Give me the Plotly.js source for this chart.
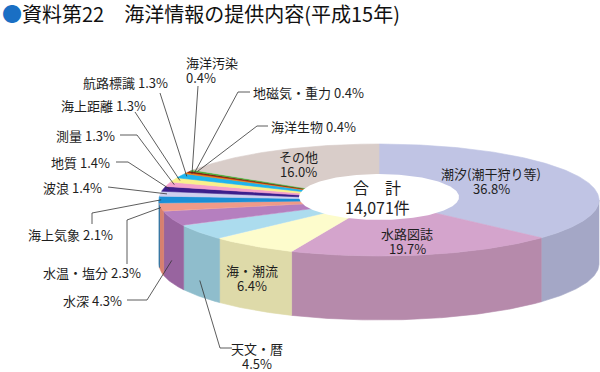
<!DOCTYPE html>
<html><head><meta charset="utf-8">
<script src="https://cdn.plot.ly/plotly-3.0.1.min.js"></script>
<style>html,body{margin:0;padding:0;background:#fff}#chart{width:600px;height:372px}</style>
</head><body><div id="chart"></div>
<script>
// ---- data ----
const categories = ['潮汐(潮干狩り等)','水路図誌','海・潮流','天文・暦','水深','水温・塩分','海上気象','波浪','地質','測量','海上距離','航路標識','海洋汚染','地磁気・重力','海洋生物','その他'];
const values = [36.8,19.7,6.4,4.5,4.3,2.3,2.1,1.4,1.4,1.3,1.3,1.3,0.4,0.4,0.4,16.0];
const totalLabel = '合　計';
const totalCount = '14,071件';
const topColors  = ['#c0c4e4','#d4a4cc','#fdfccc','#acdcee','#b57fbf','#f09a88','#1a8fd6','#cfcfee','#3c1f8c','#f4a0cc','#faf08c','#1fb4ee','#ee7d1a','#8a1c0c','#4cb23a','#d9cdc9'];
const sideColors = ['#a4a7c6','#b68aab','#dedaa9','#8fbdcc','#98649f','#d8806e','#1570a8','#b0b0d0','#2c1470','#d888b0','#dad070','#1898c8','#c86010','#701008','#3c9228','#bcb0ac'];

// ---- geometry / layout config ----
const geo = {cx:379, cy:200, a:220, b:56, depth:64, holeA:80, holeB:23, holeCy:197};
const FONT = '"Noto Sans CJK JP", "Noto Sans", sans-serif';
const TXT = '#1e1e1e';

function pt(theta, r, dy){
  return [geo.cx + geo.a*r*Math.sin(theta), geo.cy - geo.b*r*Math.cos(theta) + (dy||0)];
}
const sum = values.reduce((s,v)=>s+v,0);
const starts = []; let c = 0;
values.forEach(v=>{starts.push(c); c+=v;});
const ang = f => 2*Math.PI*f/sum;

const traces = [];
// side walls (front half only)
values.forEach((v,i)=>{
  const t1 = ang(starts[i]), t2 = ang(starts[i]+v);
  const s = Math.max(t1, Math.PI/2), e = Math.min(t2, 3*Math.PI/2);
  if (e <= s) return;
  const xs=[], ys=[];
  const n = Math.max(2, Math.ceil((e-s)/0.01));
  for (let k=0;k<=n;k++){const p=pt(s+(e-s)*k/n,1,0); xs.push(p[0]); ys.push(p[1]);}
  for (let k=n;k>=0;k--){const p=pt(s+(e-s)*k/n,1,geo.depth); xs.push(p[0]); ys.push(p[1]);}
  xs.push(xs[0]); ys.push(ys[0]);
  traces.push({type:'scatter',mode:'lines',x:xs,y:ys,fill:'toself',fillcolor:sideColors[i],
    line:{width:0.6,color:sideColors[i]},hoverinfo:'skip',showlegend:false});
});
// top face slices
values.forEach((v,i)=>{
  const t1 = ang(starts[i]), t2 = ang(starts[i]+v);
  const xs=[geo.cx], ys=[geo.cy];
  const n = Math.max(2, Math.ceil((t2-t1)/0.01));
  for (let k=0;k<=n;k++){const p=pt(t1+(t2-t1)*k/n,1,0); xs.push(p[0]); ys.push(p[1]);}
  xs.push(geo.cx); ys.push(geo.cy);
  traces.push({type:'scatter',mode:'lines',x:xs,y:ys,fill:'toself',fillcolor:topColors[i],
    line:{width:0.6,color:topColors[i]},hoverinfo:'skip',showlegend:false});
});
// hole
{
  const xs=[], ys=[];
  for (let k=0;k<=200;k++){const t=2*Math.PI*k/200; xs.push(geo.cx+geo.holeA*Math.sin(t)); ys.push(geo.holeCy-geo.holeB*Math.cos(t));}
  traces.push({type:'scatter',mode:'lines',x:xs,y:ys,fill:'toself',fillcolor:'#ffffff',
    line:{width:0,color:'#ffffff'},hoverinfo:'skip',showlegend:false});
}

// ---- labels ----
const pctText = i => values[i].toFixed(1) + '%';
const annotations = [];
const shapes = [];
function addText(text, x, y, xa, size){
  annotations.push({xref:'x',yref:'y',x:x,y:y,xanchor:xa,yanchor:'middle',showarrow:false,borderpad:0,
    text:text, font:{family:FONT,size:size||13,color:TXT}});
}
// outside labels: [index, x, y, xanchor, twoLines, leaderPoints, depthFrac, radius]
const outside = [
  [12, 185, 62, 'left', true,  [[198,86]], 0, 0.97],
  [13, 252, 92, 'left', false, [[250,92],[238,92]], 0, 0.97],
  [14, 270, 126,'left', false, [[268,126],[257,126]], 0, 0.97],
  [11, 82, 82,  'left', false, [[160,93]], 0, 0.97],
  [10, 60, 105, 'left', false, [[135,112]], 0, 0.97],
  [9,  55, 135, 'left', false, [[120,135],[137,135]], 0, 0.97],
  [8,  50, 162, 'left', false, [[116,162],[128,162]], 0, 0.97],
  [7,  42, 187, 'left', false, [[108,187]], 0, 0.97],
  [6,  27, 234, 'left', false, [[92,224],[92,213]], 0, 0.99],
  [5,  42, 272, 'left', false, [[127,264],[127,220]], 0, 1.0],
  [4,  62, 300, 'left', false, [[127,300],[147,300]], 0.65, 1.0],
  [3,  257, 348,'center', true, [[232,348],[220,348]], 0.75, 1.0]
];
outside.forEach(([i,x,y,xa,two,pts,df,r])=>{
  if (two){
    addText(categories[i], x, y, xa);
    addText(pctText(i), x, y+15, xa);
  } else {
    addText(categories[i] + ' ' + pctText(i), x, y, xa);
  }
  const mid = ang(starts[i]+values[i]/2);
  const end = pt(mid, r, geo.depth*df);
  const d = 'M ' + pts.map(p=>p[0]+' '+p[1]).join(' L ') + ' L ' + end[0].toFixed(1) + ' ' + end[1].toFixed(1);
  shapes.push({type:'path',xref:'x',yref:'y',path:d,line:{color:'#333',width:0.8}});
});
// inside labels: [index, x, y(first line)]
const inside = [[15,298,156],[0,491,173],[1,407,233],[2,252,270]];
inside.forEach(([i,x,y])=>{
  addText(categories[i], x, y, 'center');
  addText(pctText(i), x, y+15, 'center');
});
addText(totalLabel, 377, 187, 'center', 16);
addText(totalCount, 377, 207, 'center', 16);
// title
annotations.push({xref:'x',yref:'y',x:1,y:13,xanchor:'left',yanchor:'middle',showarrow:false,borderpad:0,
  text:'<span style="color:#1a6fc4">●</span>資料第22　海洋情報の提供内容(平成15年)',
  font:{family:FONT,size:20,color:'#111'}});

const layout = {
  width:600, height:372, margin:{l:0,r:0,t:0,b:0},
  paper_bgcolor:'#fff', plot_bgcolor:'#fff',
  xaxis:{range:[0,600],visible:false,fixedrange:true},
  yaxis:{range:[372,0],visible:false,fixedrange:true},
  showlegend:false, annotations:annotations, shapes:shapes, hovermode:false
};
Plotly.newPlot('chart', traces, layout, {staticPlot:true});
</script></body></html>
